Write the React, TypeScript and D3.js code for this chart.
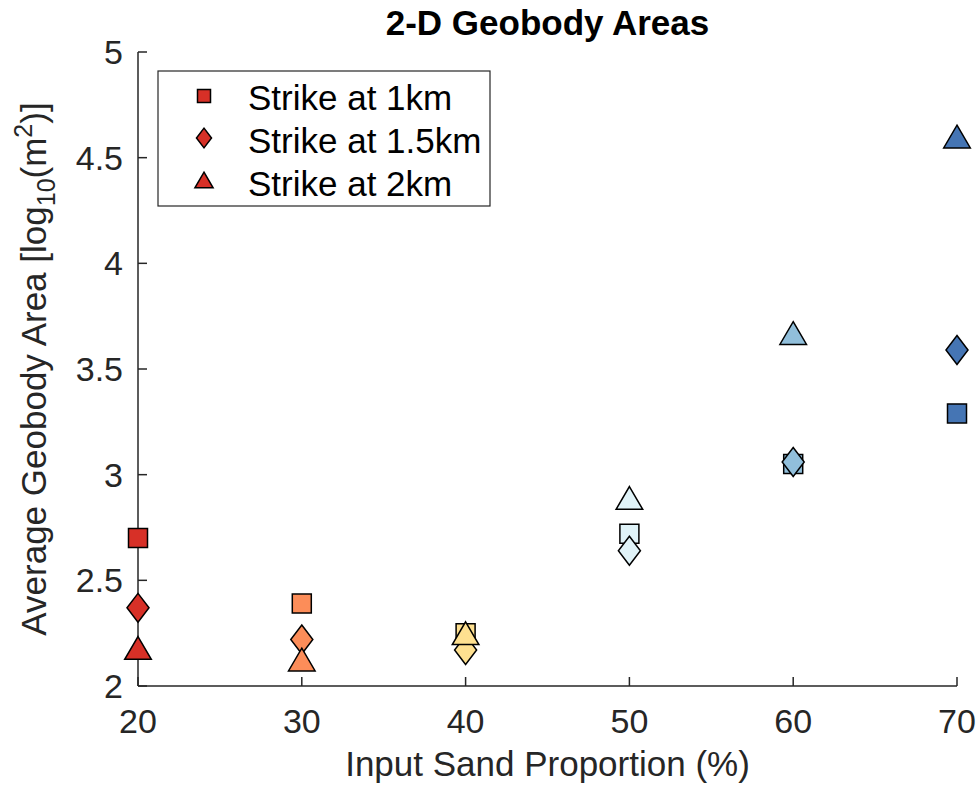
import React from "react";
import * as d3 from "d3";

// Sand proportion groups (x positions) and their fill colours
const sandProportion = [20, 30, 40, 50, 60, 70];
const groupColors = ["#d73027", "#fc8d59", "#fee090", "#e0f3f8", "#91bfdb", "#4575b4"];

// Average geobody area, log10(m^2), per strike spacing
const strike1km = [2.70, 2.39, 2.25, 2.72, 3.05, 3.29];
const strike15km = [2.37, 2.22, 2.17, 2.64, 3.06, 3.59];
const strike2km = [2.18, 2.125, 2.25, 2.89, 3.67, 4.6];

const xTicks = [20, 30, 40, 50, 60, 70];
const yTicks = [2, 2.5, 3, 3.5, 4, 4.5, 5];
const legendLabels = ["Strike at 1km", "Strike at 1.5km", "Strike at 2km"];

const W = 977;
const H = 785;
const margin = { left: 138, right: 20, top: 52, bottom: 99 };
const axisColor = "#262626";
const font = "'Liberation Sans', Arial, Helvetica, sans-serif";

type Shape = "square" | "diamond" | "triangle";

function markerPath(shape: Shape, s: number): string {
  if (shape === "square") {
    const h = s / 2;
    return `M${-h},${-h}L${h},${-h}L${h},${h}L${-h},${h}Z`;
  }
  if (shape === "diamond") {
    const w = s * 0.58;
    const h = s * 0.76;
    return `M0,${-h}L${w},0L0,${h}L${-w},0Z`;
  }
  const w = s * 0.7;
  const h = s * 0.6;
  return `M0,${-h}L${w},${h}L${-w},${h}Z`;
}

export default function App() {
  const x = d3.scaleLinear().domain([20, 70]).range([margin.left, W - margin.right]);
  const y = d3.scaleLinear().domain([2, 5]).range([H - margin.bottom, margin.top]);

  const series: { shape: Shape; values: number[] }[] = [
    { shape: "square", values: strike1km },
    { shape: "diamond", values: strike15km },
    { shape: "triangle", values: strike2km },
  ];

  const x0 = x(20);
  const x1 = x(70);
  const y0 = y(2);
  const y1 = y(5);
  const tickLen = 9;

  return (
    <svg
      width={W}
      height={H}
      style={{ position: "absolute", left: 0, top: 0, background: "#fff" }}
      fontFamily={font}
    >
      <rect width={W} height={H} fill="#fff" />

      {/* axes */}
      <line x1={x0} x2={x1} y1={y0} y2={y0} stroke={axisColor} strokeWidth={1.5} />
      <line x1={x0} x2={x0} y1={y0} y2={y1} stroke={axisColor} strokeWidth={1.5} />
      {xTicks.map((t) => (
        <g key={"x" + t}>
          <line x1={x(t)} x2={x(t)} y1={y0} y2={y0 - tickLen} stroke={axisColor} strokeWidth={1.5} />
          <text x={x(t)} y={y0 + 47} textAnchor="middle" fontSize={34} fill={axisColor}>
            {t}
          </text>
        </g>
      ))}
      {yTicks.map((t) => (
        <g key={"y" + t}>
          <line x1={x0} x2={x0 + tickLen} y1={y(t)} y2={y(t)} stroke={axisColor} strokeWidth={1.5} />
          <text
            x={x0 - 15}
            y={y(t)}
            dy="0.35em"
            textAnchor="end"
            fontSize={34}
            fill={axisColor}
          >
            {t}
          </text>
        </g>
      ))}

      {/* markers */}
      {sandProportion.map((p, i) =>
        series.map((s) => (
          <path
            key={s.shape + p}
            d={markerPath(s.shape, 19)}
            transform={`translate(${x(p)},${y(s.values[i])})`}
            fill={groupColors[i]}
            stroke="#000"
            strokeWidth={1.5}
          />
        ))
      )}

      {/* title and axis labels */}
      <text x={(x0 + x1) / 2} y={35} textAnchor="middle" fontSize={35} fontWeight="bold" fill="#000">
        2-D Geobody Areas
      </text>
      <text x={(x0 + x1) / 2} y={776} textAnchor="middle" fontSize={35} fill={axisColor}>
        Input Sand Proportion (%)
      </text>
      <text
        transform={`translate(46,${(y0 + y1) / 2}) rotate(-90)`}
        textAnchor="middle"
        fontSize={35}
        fill={axisColor}
      >
        Average Geobody Area [log
        <tspan fontSize={25} dy={9}>10</tspan>
        <tspan dy={-9}>(m</tspan>
        <tspan fontSize={25} dy={-14}>2</tspan>
        <tspan dy={14}>)]</tspan>
      </text>

      {/* legend */}
      <g>
        <rect x={158} y={71} width={332} height={135} fill="#fff" stroke={axisColor} strokeWidth={1.2} />
        {series.map((s, k) => (
          <g key={"lg" + k}>
            <path
              d={markerPath(s.shape, 13)}
              transform={`translate(204,${96 + k * 42})`}
              fill={groupColors[0]}
              stroke="#000"
              strokeWidth={1.5}
            />
            <text x={248} y={110 + k * 43} fontSize={35} fill="#000">
              {legendLabels[k]}
            </text>
          </g>
        ))}
      </g>
    </svg>
  );
}
